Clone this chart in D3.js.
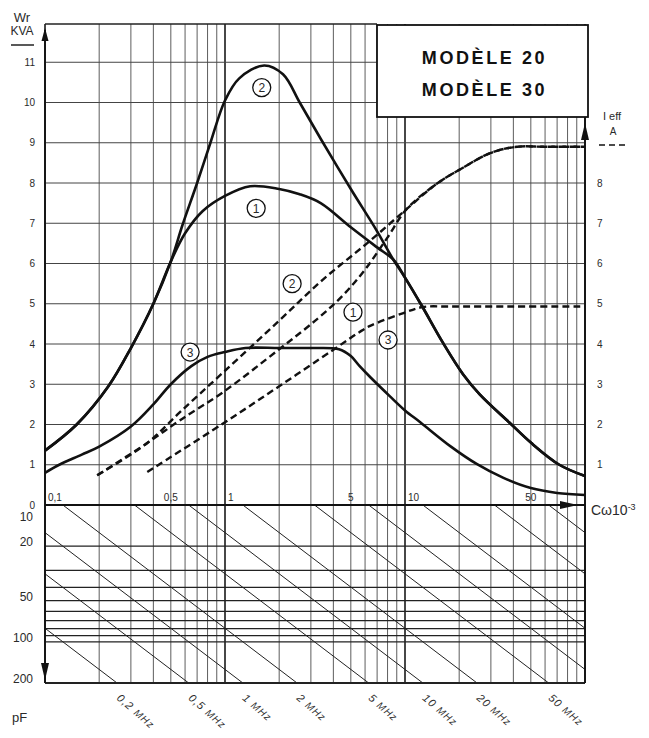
<!DOCTYPE html>
<html>
<head>
<meta charset="utf-8">
<script src="https://cdn.jsdelivr.net/npm/d3@7"></script>
<style>
  body { margin: 0; background: #fff; }
  text { font-family: "Liberation Sans", Arial, sans-serif; fill: #2a2a2a; }
</style>
</head>
<body>
<div id="chart"></div>
<script>
// ---------- data ----------
// x = C·ω ·10^3, left axis Wr (kVA), right axis I eff (A), bottom: C (pF)
const cwTicks = [0.1, 0.5, 1, 5, 10, 50];
const cwTickLabels = ["0,1", "0,5", "1", "5", "10", "50"];
const kvaTicks = [0, 1, 2, 3, 4, 5, 6, 7, 8, 9, 10, 11];
const ampTicks = [1, 2, 3, 4, 5, 6, 7, 8];
const pfTicks = [10, 20, 50, 100, 200];
const pfLines = [20, 30, 40, 50, 60, 70, 80, 90, 100, 200];
const freqLines = [0.2, 0.5, 1, 2, 5, 10, 20, 50, 100, 200, 500, 1000]; // MHz
const freqLabelValues = [0.2, 0.5, 1, 2, 5, 10, 20, 50];
const freqLabels = ["0,2", "0,5", "1", "2", "5", "10", "20", "50"];

// Wr curves (solid)
const wr1 = [[0.1, 1.35], [0.15, 2.0], [0.225, 2.95], [0.3, 3.9], [0.4, 5.0], [0.5, 6.05],
  [0.6, 6.75], [0.75, 7.3], [1.0, 7.68], [1.38, 7.92], [2.0, 7.85], [2.6, 7.72],
  [3.4, 7.5], [5.0, 6.9], [7.0, 6.4], [8.6, 6.1], [10, 5.65], [12.4, 4.95], [16.3, 4.02],
  [21, 3.25], [26, 2.75], [38, 2.05], [50, 1.55], [72, 1.0], [100, 0.72]];
const wr2 = [[0.1, 1.35], [0.15, 2.0], [0.225, 2.95], [0.3, 3.9], [0.4, 5.0], [0.5, 6.05],
  [0.58, 6.95], [0.7, 8.0], [0.83, 9.0], [1.0, 10.05], [1.2, 10.6], [1.65, 10.92],
  [2.1, 10.7], [2.6, 10.0], [3.4, 9.1], [5.0, 7.85], [7.0, 6.8], [8.6, 6.1], [10, 5.65],
  [12.4, 4.95], [16.3, 4.02], [21, 3.25], [26, 2.75], [38, 2.05], [50, 1.55], [72, 1.0], [100, 0.72]];
const wr3 = [[0.1, 0.8], [0.12, 1.0], [0.16, 1.25], [0.2, 1.45], [0.3, 1.95], [0.4, 2.5],
  [0.5, 3.0], [0.65, 3.45], [0.8, 3.68], [1.0, 3.8], [1.3, 3.9], [2.0, 3.9], [3.0, 3.9],
  [4.3, 3.87], [5.0, 3.7], [5.6, 3.45], [6.4, 3.18], [8.25, 2.7], [10, 2.35], [12.2, 2.05],
  [18, 1.45], [25, 1.02], [35, 0.68], [50, 0.42], [70, 0.3], [100, 0.25]];

// I eff curves (dashed)
const ieff1 = [[0.195, 0.74], [0.37, 1.54], [0.56, 2.1], [0.98, 2.81], [2.0, 3.87],
  [3.25, 4.62], [4.5, 5.2], [6.0, 5.85], [8.0, 6.65], [10.2, 7.35],
  [15, 7.98], [21, 8.38], [30, 8.75], [42, 8.9], [60, 8.9], [100, 8.9]];
const ieff2 = [[0.195, 0.74], [0.37, 1.54], [0.56, 2.3], [0.98, 3.3], [2.0, 4.58],
  [3.5, 5.6], [6.15, 6.5], [10.2, 7.35], [15, 7.98], [21, 8.38], [30, 8.75],
  [42, 8.9], [60, 8.9], [100, 8.9]];
const ieff3 = [[0.37, 0.82], [0.98, 2.03], [2.0, 2.95], [3.98, 3.85], [5.6, 4.3],
  [6.4, 4.45], [9.8, 4.77], [12.6, 4.92], [18, 4.93], [40, 4.93], [100, 4.93]];

// circled curve numbers: [Cω, value, label]
const curveTags = [[1.6, 10.37, "2"], [1.49, 7.37, "1"], [0.64, 3.8, "3"],
  [2.36, 5.5, "2"], [5.14, 4.79, "1"], [8.05, 4.1, "3"]];

// ---------- layout ----------
const W = 649, H = 738;
const svg = d3.select("#chart").append("svg")
  .attr("width", W).attr("height", H);

const x = d3.scaleLog().domain([0.1, 100]).range([45, 585]);
const y = d3.scaleLinear().domain([0, 12]).range([505, 22]);
const yC = d3.scaleLog().domain([10, 200]).range([505, 683]);
const yTop = 24;
const box = {x0: 377, x1: 588, y0: 25, y1: 117};

// vertical grid (log decades)
svg.append("g").selectAll("line")
  .data(x.ticks())
  .enter().append("line")
  .attr("x1", d => x(d)).attr("x2", d => x(d))
  .attr("y1", yTop).attr("y2", yC(200))
  .attr("stroke", "#333")
  .attr("stroke-width", d => (d === 1 || d === 10 || d === 0.1 || d === 100) ? 1.8 : 0.8);

// horizontal grid, top part
svg.append("g").selectAll("line")
  .data(kvaTicks.slice(1))
  .enter().append("line")
  .attr("x1", x(0.1)).attr("x2", x(100))
  .attr("y1", d => y(d)).attr("y2", d => y(d))
  .attr("stroke", "#444").attr("stroke-width", 1);

// top border
svg.append("line")
  .attr("x1", x(0.1)).attr("x2", box.x0)
  .attr("y1", yTop).attr("y2", yTop)
  .attr("stroke", "#222").attr("stroke-width", 1.5);

// horizontal lines, pF part
svg.append("g").selectAll("line")
  .data(pfLines)
  .enter().append("line")
  .attr("x1", x(0.1)).attr("x2", x(100))
  .attr("y1", d => yC(d)).attr("y2", d => yC(d))
  .attr("stroke", "#222").attr("stroke-width", d => d === 200 ? 2 : 1.3);

// constant-frequency diagonals: Cω·10^3 = C[pF]·2πf[MHz]/1000
const cwOf = (c, f) => c * 2 * Math.PI * f / 1000;
svg.append("g").selectAll("line")
  .data(freqLines.map(f => {
    const cLo = Math.max(10, 100 / (2 * Math.PI * f));
    const cHi = Math.min(200, 100000 / (2 * Math.PI * f));
    return {f, cLo, cHi};
  }).filter(d => d.cLo < d.cHi))
  .enter().append("line")
  .attr("x1", d => x(cwOf(d.cLo, d.f))).attr("y1", d => yC(d.cLo))
  .attr("x2", d => x(cwOf(d.cHi, d.f))).attr("y2", d => yC(d.cHi))
  .attr("stroke", "#222").attr("stroke-width", 1);

// frequency labels below
freqLabelValues.forEach((f, i) => {
  const px = x(cwOf(200, f)) - 1;
  const t = svg.append("text")
    .attr("transform", `translate(${px},699) rotate(41)`)
    .style("font-style", "italic")
    .style("font-size", "11px")
    .style("letter-spacing", "1px");
  t.append("tspan").text(freqLabels[i] + " ");
  t.append("tspan").style("font-size", "10px").text("MHz");
});

// Cω axis (0 line) and borders
svg.append("line")
  .attr("x1", x(0.1)).attr("x2", x(100))
  .attr("y1", y(0)).attr("y2", y(0))
  .attr("stroke", "#111").attr("stroke-width", 2);
svg.append("path")
  .attr("d", `M${x(100) - 25},${y(0) - 4}L${x(100) - 7},${y(0)}L${x(100) - 25},${y(0) + 4}Z`)
  .attr("fill", "#111");

// left axis with arrows
svg.append("line")
  .attr("x1", x(0.1)).attr("x2", x(0.1))
  .attr("y1", 30).attr("y2", yC(200))
  .attr("stroke", "#111").attr("stroke-width", 1.8);
svg.append("path")
  .attr("d", `M${x(0.1) - 3.5},41L${x(0.1)},28L${x(0.1) + 3.5},41Z`).attr("fill", "#111");
svg.append("path")
  .attr("d", `M${x(0.1) - 4},663L${x(0.1)},680L${x(0.1) + 4},663Z`).attr("fill", "#111");

// right axis with arrow
svg.append("line")
  .attr("x1", x(100)).attr("x2", x(100))
  .attr("y1", box.y1).attr("y2", yC(200))
  .attr("stroke", "#111").attr("stroke-width", 1.8);
svg.append("path")
  .attr("d", `M${x(100) - 4},140L${x(100)},123L${x(100) + 4},140Z`).attr("fill", "#111");

// title box
svg.append("rect")
  .attr("x", box.x0).attr("y", box.y0)
  .attr("width", box.x1 - box.x0).attr("height", box.y1 - box.y0)
  .attr("fill", "#fff").attr("stroke", "#111").attr("stroke-width", 1.8);
["MODÈLE 20", "MODÈLE 30"].forEach((s, i) => {
  svg.append("text")
    .attr("x", (box.x0 + box.x1) / 2 + 2).attr("y", 64 + i * 32)
    .attr("text-anchor", "middle")
    .style("font-size", "18px").style("font-weight", "bold")
    .style("letter-spacing", "2.6px")
    .style("fill", "#111")
    .text(s);
});

// axes labels via d3 axes
const leftAxis = svg.append("g")
  .attr("transform", `translate(${x(0.1)},0)`)
  .call(d3.axisLeft(y).tickValues(kvaTicks).tickSize(0).tickPadding(10).tickFormat(d3.format("d")));
leftAxis.select(".domain").remove();
leftAxis.selectAll("text").style("font-size", "10px").style("font-family", "Liberation Sans, Arial").attr("fill", "#333");

const rightAxis = svg.append("g")
  .attr("transform", `translate(${x(100)},0)`)
  .call(d3.axisRight(y).tickValues(ampTicks).tickSize(0).tickPadding(12).tickFormat(d3.format("d")));
rightAxis.select(".domain").remove();
rightAxis.selectAll("text").style("font-size", "10px").style("font-family", "Liberation Sans, Arial").attr("fill", "#333");

// pF labels
svg.append("g").selectAll("text")
  .data(pfTicks)
  .enter().append("text")
  .attr("x", 33)
  .attr("y", d => d === 10 ? yC(d) + 16 : yC(d))
  .attr("text-anchor", "end")
  .style("font-size", "12px")
  .text(d => d);
svg.append("text").attr("x", 12).attr("y", 722).style("font-size", "13px").text("pF");

// Cω tick labels on the 0 line
svg.append("g").selectAll("text")
  .data(cwTicks)
  .enter().append("text")
  .attr("x", d => [0.1, 1, 10].includes(d) ? x(d) + 3 : x(d))
  .attr("y", y(0) - 4)
  .attr("text-anchor", d => [0.1, 1, 10].includes(d) ? "start" : "middle")
  .style("font-size", "10px")
  .text((d, i) => cwTickLabels[i]);

// Cω10-3 label
const cwLabel = svg.append("text").attr("x", 591).attr("y", 515).style("font-size", "14px");
cwLabel.append("tspan").text("Cω10");
cwLabel.append("tspan").attr("dy", -5).style("font-size", "9px").text("-3");

// Wr KVA label
svg.append("text").attr("x", 22).attr("y", 22).attr("text-anchor", "middle")
  .style("font-size", "13px").text("Wr");
svg.append("text").attr("x", 22).attr("y", 35).attr("text-anchor", "middle")
  .style("font-size", "12px").text("KVA");
svg.append("line").attr("x1", 11).attr("x2", 34).attr("y1", 45).attr("y2", 45)
  .attr("stroke", "#222").attr("stroke-width", 1.5);

// I eff A label
svg.append("text").attr("x", 612).attr("y", 120).attr("text-anchor", "middle")
  .style("font-size", "11px").text("I eff");
svg.append("text").attr("x", 613).attr("y", 135).attr("text-anchor", "middle")
  .style("font-size", "10px").text("A");
svg.append("line").attr("x1", 599).attr("x2", 628).attr("y1", 145).attr("y2", 145)
  .attr("stroke", "#111").attr("stroke-width", 1.5).attr("stroke-dasharray", "6,4");

// ---------- curves ----------
const line = d3.line()
  .x(d => x(d[0]))
  .y(d => y(d[1]))
  .curve(d3.curveCatmullRom.alpha(0.5));

[wr1, wr2, wr3].forEach(c => {
  svg.append("path")
    .datum(c)
    .attr("fill", "none")
    .attr("stroke", "#111")
    .attr("stroke-width", 2.6)
    .attr("d", line);
});

[ieff1, ieff2, ieff3].forEach(c => {
  svg.append("path")
    .datum(c)
    .attr("fill", "none")
    .attr("stroke", "#111")
    .attr("stroke-width", 2.4)
    .attr("stroke-dasharray", "7,4")
    .attr("d", line);
});

// circled numbers
const tags = svg.append("g").selectAll("g")
  .data(curveTags)
  .enter().append("g")
  .attr("transform", d => `translate(${x(d[0])},${y(d[1])})`);
tags.append("circle").attr("r", 9)
  .attr("fill", "#fff").attr("stroke", "#111").attr("stroke-width", 1.3);
tags.append("text")
  .attr("text-anchor", "middle").attr("y", 4.5)
  .style("font-size", "12px")
  .text(d => d[2]);
</script>
</body>
</html>
